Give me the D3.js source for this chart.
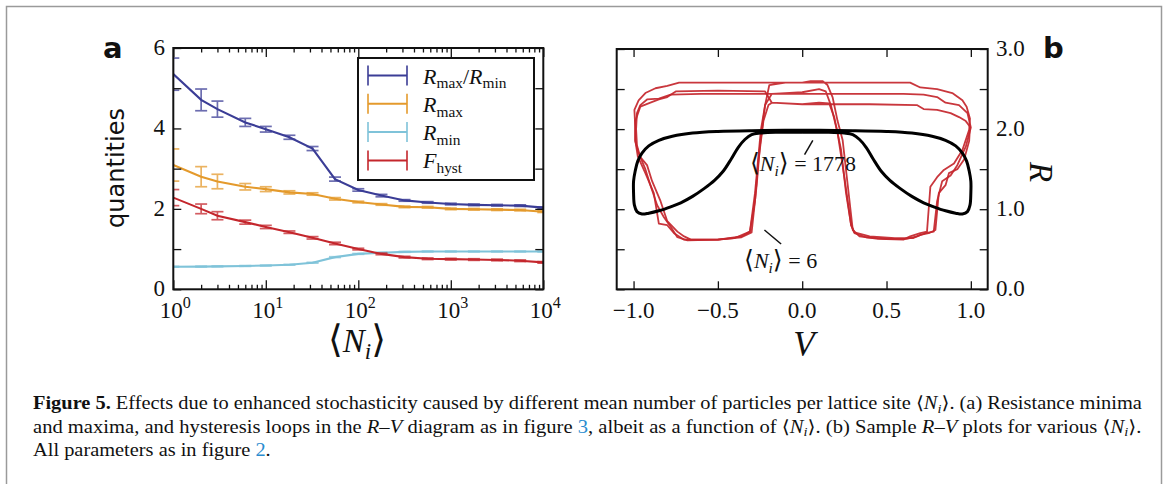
<!DOCTYPE html>
<html>
<head>
<meta charset="utf-8">
<script src="https://cdn.jsdelivr.net/npm/d3@7"></script>
<style>
  body { margin: 0; background: #fff; }
  svg text { font-family: 'Liberation Serif', 'DejaVu Serif', serif; fill: #111; }
</style>
</head>
<body>
<script>
// ---- panel a : quantities vs <N_i> ----
var nValues   = [1, 2, 3, 6, 10, 18, 32, 56, 100, 178, 316, 562, 1000, 1778, 3162, 5623, 10000];
var ratioVals = [5.35, 4.71, 4.48, 4.15, 3.98, 3.78, 3.50, 2.74, 2.47, 2.33, 2.21, 2.16, 2.12, 2.10, 2.09, 2.08, 2.03];
var ratioErr  = [0.40, 0.27, 0.20, 0.10, 0.07, 0.05, 0.05, 0.05, 0.03, 0.03, 0.02, 0.02, 0.02, 0.02, 0.02, 0.02, 0.02];
var rmaxVals  = [3.09, 2.80, 2.68, 2.55, 2.49, 2.41, 2.37, 2.25, 2.17, 2.11, 2.05, 2.04, 2.00, 1.99, 1.98, 1.97, 1.93];
var rmaxErr   = [0.40, 0.25, 0.18, 0.08, 0.06, 0.04, 0.03, 0.03, 0.02, 0.02, 0.02, 0.02, 0.02, 0.02, 0.02, 0.02, 0.02];
var rminVals  = [0.56, 0.565, 0.57, 0.58, 0.59, 0.61, 0.66, 0.80, 0.88, 0.91, 0.93, 0.94, 0.94, 0.94, 0.94, 0.94, 0.94];
var rminErr   = [0.01, 0.01, 0.01, 0.01, 0.01, 0.01, 0.01, 0.01, 0.01, 0.01, 0.01, 0.01, 0.01, 0.01, 0.01, 0.01, 0.01];
var fhystVals = [2.28, 2.00, 1.83, 1.67, 1.55, 1.42, 1.28, 1.14, 1.00, 0.88, 0.80, 0.76, 0.75, 0.74, 0.73, 0.71, 0.67];
var fhystErr  = [0.20, 0.12, 0.10, 0.05, 0.04, 0.03, 0.03, 0.03, 0.02, 0.02, 0.02, 0.02, 0.02, 0.02, 0.02, 0.02, 0.02];

var seriesColors = ["#3b3d96", "#e49a2c", "#7fc3d9", "#c4262c"];
var decadeTicks = [1, 10, 100, 1000, 10000];
var decadeExp = ["0", "1", "2", "3", "4"];
var quantTicks = [0, 1, 2, 3, 4, 5, 6];
var quantLabels = [0, 2, 4, 6];

// ---- panel b : R-V loops ----
var loopN6a = [[0.00,2.58],[0.05,2.60],[0.12,2.60],[0.15,2.55],[0.18,2.40],[0.21,2.10],[0.24,1.86],[0.27,1.30],[0.30,0.74],
  [0.34,0.66],[0.45,0.63],[0.60,0.62],[0.64,0.66],[0.70,0.70],[0.74,0.72],[0.76,1.28],[0.80,1.40],[0.84,1.49],[0.90,1.57],
  [0.95,1.74],[0.99,1.99],[0.995,2.13],[0.975,2.28],[0.95,2.36],[0.89,2.45],[0.80,2.50],[0.70,2.52],[0.64,2.58],[0.40,2.58],
  [0.00,2.58],[-0.30,2.58],[-0.60,2.58],[-0.73,2.58],[-0.80,2.54],[-0.87,2.51],[-0.93,2.45],[-0.97,2.36],[-0.995,2.24],
  [-0.99,2.03],[-0.99,1.86],[-0.975,1.66],[-0.93,1.45],[-0.88,1.20],[-0.85,0.82],[-0.80,0.80],[-0.76,0.70],[-0.70,0.62],
  [-0.50,0.62],[-0.40,0.64],[-0.31,0.72],[-0.28,1.20],[-0.245,1.99],[-0.22,2.30],[-0.195,2.55],[-0.10,2.58],[0.00,2.58]];
var loopN6b = [[0.00,2.46],[0.10,2.50],[0.14,2.47],[0.17,2.30],[0.21,1.95],[0.25,1.40],[0.29,0.80],[0.31,0.70],[0.38,0.65],
  [0.50,0.63],[0.62,0.63],[0.68,0.66],[0.73,0.70],[0.78,0.72],[0.80,1.10],[0.83,1.35],[0.88,1.42],[0.92,1.55],[0.97,1.78],
  [1.00,2.02],[0.98,2.20],[0.93,2.30],[0.85,2.33],[0.80,2.40],[0.72,2.43],[0.60,2.44],[0.30,2.44],[0.00,2.44],[-0.30,2.44],
  [-0.60,2.44],[-0.78,2.43],[-0.85,2.38],[-0.92,2.37],[-0.96,2.30],[-0.98,2.20],[-0.985,2.00],[-0.98,1.80],[-0.96,1.65],
  [-0.92,1.55],[-0.89,1.35],[-0.84,1.10],[-0.80,0.85],[-0.74,0.72],[-0.70,0.66],[-0.66,0.62],[-0.50,0.62],[-0.36,0.65],
  [-0.30,0.71],[-0.27,1.30],[-0.25,1.80],[-0.22,2.30],[-0.18,2.44],[-0.10,2.45],[0.00,2.46]];
var loopN6c = [[0.00,2.31],[0.10,2.33],[0.16,2.32],[0.19,2.15],[0.23,1.75],[0.26,1.20],[0.29,0.80],[0.31,0.71],[0.40,0.66],
  [0.55,0.64],[0.66,0.64],[0.70,0.68],[0.75,0.70],[0.79,0.74],[0.81,1.20],[0.85,1.30],[0.87,1.45],[0.92,1.50],[0.96,1.62],
  [0.99,1.85],[0.995,2.03],[0.97,2.10],[0.93,2.15],[0.88,2.20],[0.80,2.24],[0.72,2.25],[0.68,2.30],[0.40,2.31],[0.00,2.31],
  [-0.18,2.33],[-0.22,2.47],[-0.50,2.48],[-0.75,2.47],[-0.80,2.40],[-0.85,2.37],[-0.90,2.33],[-0.96,2.28],[-0.99,2.10],
  [-0.99,1.85],[-0.97,1.70],[-0.93,1.50],[-0.90,1.30],[-0.86,1.05],[-0.82,0.90],[-0.78,0.78],[-0.74,0.65],[-0.68,0.61],
  [-0.50,0.62],[-0.36,0.66],[-0.31,0.72],[-0.28,1.10],[-0.26,1.60],[-0.23,2.10],[-0.20,2.30],[-0.18,2.33],[-0.10,2.32],[0.00,2.31]];
var loopN1778 = [[0,1.96],[0.15,1.96],[0.25,1.95],[0.30,1.93],[0.34,1.87],[0.38,1.77],[0.42,1.63],[0.47,1.47],[0.52,1.36],
  [0.58,1.26],[0.65,1.16],[0.72,1.08],[0.78,1.03],[0.85,0.98],[0.91,0.95],[0.95,0.94],[0.98,0.97],[0.995,1.05],[1.0,1.2],
  [1.0,1.35],[0.99,1.48],[0.975,1.6],[0.95,1.7],[0.91,1.79],[0.85,1.86],[0.77,1.91],[0.65,1.95],[0.5,1.97],[0.3,1.98],
  [0,1.985],[-0.3,1.98],[-0.5,1.97],[-0.65,1.95],[-0.77,1.91],[-0.85,1.86],[-0.91,1.79],[-0.95,1.7],[-0.975,1.6],
  [-0.99,1.48],[-1.0,1.35],[-1.0,1.2],[-0.995,1.05],[-0.98,0.97],[-0.95,0.94],[-0.91,0.95],[-0.85,0.98],[-0.78,1.03],
  [-0.72,1.08],[-0.65,1.16],[-0.58,1.26],[-0.52,1.36],[-0.47,1.47],[-0.42,1.63],[-0.38,1.77],[-0.34,1.87],[-0.30,1.93],
  [-0.25,1.95],[-0.15,1.96],[0,1.96]];
var vTicks = [-1, -0.5, 0, 0.5, 1];
var rTicks = [0, 0.5, 1, 1.5, 2, 2.5, 3];
var rLabels = [0, 1, 2, 3];

var W = 1168, H = 484;
var svg = d3.select("body").append("svg").attr("width", W).attr("height", H);

// helper: text with italic / sub / sup pieces
function addParts(textSel, parts, size) {
  var shift = 0;
  parts.forEach(function(p) {
    var ts = textSel.append("tspan").text(p.t);
    var target = p.sub ? size * 0.22 : (p.sup ? -size * 0.42 : 0);
    if (target !== shift) { ts.attr("dy", target - shift); shift = target; }
    if (p.italic) ts.style("font-style", "italic");
    if (p.bold) ts.style("font-weight", "bold");
    if (p.sub || p.sup) ts.style("font-size", (size * 0.7) + "px");
    if (p.big) ts.style("font-size", (size * 1.15) + "px");
    if (p.color) ts.style("fill", p.color);
  });
  return textSel;
}
function angleN(rest) {
  return [{ t: "\u27E8", big: true }, { t: "N", italic: true }, { t: "i", italic: true, sub: true },
          { t: "\u27E9", big: true }].concat(rest ? [{ t: rest }] : []);
}

// figure frame
svg.append("rect").attr("x", 6.5).attr("y", 6.5).attr("width", 1155).attr("height", 520)
  .attr("fill", "none").attr("stroke", "#9a9a9a").attr("stroke-width", 1.5);

// ================= panel a =================
var xA = d3.scaleLog().domain([1, 10000]).range([173.3, 543.3]);
var yA = d3.scaleLinear().domain([0, 6]).range([289.3, 48]);

svg.append("clipPath").attr("id", "clipA").append("rect")
  .attr("x", 173.3).attr("y", 48).attr("width", 370).attr("height", 241.3);

var gA = svg.append("g").attr("clip-path", "url(#clipA)");
var seriesA = [
  { vals: ratioVals, err: ratioErr },
  { vals: rmaxVals, err: rmaxErr },
  { vals: rminVals, err: rminErr },
  { vals: fhystVals, err: fhystErr }
];
var lineA = d3.line().x(function(d) { return xA(d[0]); }).y(function(d) { return yA(d[1]); });

seriesA.forEach(function(s, i) {
  var pts = nValues.map(function(n, k) { return [n, s.vals[k], s.err[k]]; });
  var eg = gA.append("g").attr("stroke", seriesColors[i]).attr("stroke-width", 1.7).attr("opacity", 0.75);
  pts.forEach(function(p) {
    var x = xA(p[0]), y0 = yA(p[1] - p[2]), y1 = yA(p[1] + p[2]);
    eg.append("line").attr("x1", x).attr("x2", x).attr("y1", y0).attr("y2", y1);
    eg.append("line").attr("x1", x - 6).attr("x2", x + 6).attr("y1", y0).attr("y2", y0);
    eg.append("line").attr("x1", x - 6).attr("x2", x + 6).attr("y1", y1).attr("y2", y1);
  });
  gA.append("path").datum(pts).attr("d", lineA)
    .attr("fill", "none").attr("stroke", seriesColors[i]).attr("stroke-width", 2.1);
});

// ticks (inward, on all four sides)
var minorA = [];
d3.range(0, 4).forEach(function(e) {
  for (var m = 2; m <= 9; m++) minorA.push(m * Math.pow(10, e));
});
function tickAxis(axis, vals, size, tr) {
  var g = svg.append("g").attr("transform", tr)
    .call(axis.tickValues(vals).tickSize(-size).tickFormat(function() { return ""; }));
  g.select(".domain").remove();
  g.selectAll("line").attr("stroke", "#111").attr("stroke-width", 1.3);
  return g;
}
tickAxis(d3.axisBottom(xA), decadeTicks, 9, "translate(0,289.3)");
tickAxis(d3.axisBottom(xA), minorA, 4.5, "translate(0,289.3)");
tickAxis(d3.axisTop(xA), decadeTicks, 9, "translate(0,48)");
tickAxis(d3.axisTop(xA), minorA, 4.5, "translate(0,48)");
tickAxis(d3.axisLeft(yA), quantTicks, 8, "translate(173.3,0)");
tickAxis(d3.axisRight(yA), quantTicks, 8, "translate(543.3,0)");

svg.append("rect").attr("x", 173.3).attr("y", 48).attr("width", 370).attr("height", 241.3)
  .attr("fill", "none").attr("stroke", "#111").attr("stroke-width", 2);

decadeTicks.forEach(function(v, i) {
  var t = svg.append("text").attr("x", xA(v) + 2).attr("y", 318)
    .attr("text-anchor", "middle").style("font-size", "23px");
  addParts(t, [{ t: "10" }, { t: decadeExp[i], sup: true }], 23);
});
quantLabels.forEach(function(v) {
  svg.append("text").attr("x", 165).attr("y", yA(v) - 1).attr("dy", "0.34em")
    .attr("text-anchor", "end").style("font-size", "23px").text(v);
});

svg.append("text").attr("transform", "translate(123.5,168) rotate(-90)")
  .attr("text-anchor", "middle")
  .style("font-family", "'DejaVu Sans', sans-serif").style("font-size", "24px")
  .text("quantities");

addParts(svg.append("text").attr("x", 357).attr("y", 352).attr("text-anchor", "middle").style("font-size", "33px"),
  angleN(), 33);

svg.append("text").attr("x", 103).attr("y", 58)
  .style("font-family", "'DejaVu Sans', sans-serif").style("font-weight", "bold").style("font-size", "29px")
  .text("a");

// legend
var legendLabels = [
  [{ t: "R", italic: true }, { t: "max", sub: true }, { t: "/" }, { t: "R", italic: true }, { t: "min", sub: true }],
  [{ t: "R", italic: true }, { t: "max", sub: true }],
  [{ t: "R", italic: true }, { t: "min", sub: true }],
  [{ t: "F", italic: true }, { t: "hyst", sub: true }]
];
var lg = svg.append("g");
lg.append("rect").attr("x", 358).attr("y", 58).attr("width", 176).attr("height", 122)
  .attr("fill", "#fff").attr("stroke", "#111").attr("stroke-width", 2);
legendLabels.forEach(function(parts, i) {
  var cy = 75.5 + i * 28.3;
  var g = lg.append("g").attr("stroke", seriesColors[i]).attr("stroke-width", 2);
  g.append("line").attr("x1", 368).attr("x2", 407).attr("y1", cy).attr("y2", cy);
  g.append("line").attr("x1", 368).attr("x2", 368).attr("y1", cy - 10).attr("y2", cy + 10).attr("opacity", 0.8);
  g.append("line").attr("x1", 407).attr("x2", 407).attr("y1", cy - 10).attr("y2", cy + 10).attr("opacity", 0.8);
  addParts(lg.append("text").attr("x", 423).attr("y", cy + 8).style("font-size", "22px"), parts, 22);
});

// ================= panel b =================
var xB = d3.scaleLinear().domain([-1.1, 1.1]).range([616.7, 987.7]);
var yB = d3.scaleLinear().domain([0, 3]).range([289.3, 49]);

svg.append("clipPath").attr("id", "clipB").append("rect")
  .attr("x", 616.7).attr("y", 49).attr("width", 371).attr("height", 240.3);
var gB = svg.append("g").attr("clip-path", "url(#clipB)");
var lineB = d3.line().x(function(d) { return xB(d[0]); }).y(function(d) { return yB(d[1]); });

[loopN6a, loopN6b, loopN6c].forEach(function(loop) {
  gB.append("path").datum(loop).attr("d", lineB)
    .attr("fill", "none").attr("stroke", "#c4262c").attr("stroke-width", 1.8)
    .attr("stroke-linejoin", "round").attr("opacity", 0.92);
});
gB.append("path").datum(loopN1778).attr("d", lineB.curve(d3.curveCatmullRom))
  .attr("fill", "none").attr("stroke", "#000").attr("stroke-width", 3);

tickAxis(d3.axisBottom(xB), vTicks, 8, "translate(0,289.3)");
tickAxis(d3.axisTop(xB), vTicks, 8, "translate(0,49)");
tickAxis(d3.axisLeft(yB), rTicks, 8, "translate(616.7,0)");
tickAxis(d3.axisRight(yB), rTicks, 8, "translate(987.7,0)");

svg.append("rect").attr("x", 616.7).attr("y", 49).attr("width", 371).attr("height", 240.3)
  .attr("fill", "none").attr("stroke", "#111").attr("stroke-width", 2);

var fmt1 = d3.format(".1f");
vTicks.forEach(function(v) {
  svg.append("text").attr("x", xB(v)).attr("y", 318).attr("text-anchor", "middle")
    .style("font-size", "23px").text(fmt1(v));
});
rLabels.forEach(function(v) {
  svg.append("text").attr("x", 996).attr("y", yB(v) - 1).attr("dy", "0.34em")
    .style("font-size", "23px").text(fmt1(v));
});

svg.append("text").attr("x", 804).attr("y", 356).attr("text-anchor", "middle")
  .style("font-size", "35px").style("font-style", "italic").text("V");
svg.append("text").attr("transform", "translate(1030,172) rotate(90)").attr("text-anchor", "middle")
  .style("font-size", "33px").style("font-style", "italic").text("R");

svg.append("text").attr("x", 1043).attr("y", 58)
  .style("font-family", "'DejaVu Sans', sans-serif").style("font-weight", "bold").style("font-size", "29px")
  .text("b");

// annotations
var annLines = [
  { from: [0.014, 1.68], to: [0.063, 1.86] },
  { from: [-0.224, 0.74], to: [-0.125, 0.565] }
];
annLines.forEach(function(a) {
  svg.append("line").attr("x1", xB(a.from[0])).attr("y1", yB(a.from[1]))
    .attr("x2", xB(a.to[0])).attr("y2", yB(a.to[1]))
    .attr("stroke", "#111").attr("stroke-width", 1.5);
});
addParts(svg.append("text").attr("x", xB(-0.31)).attr("y", yB(1.48)).style("font-size", "22px"),
  angleN(" = 1778"), 22);
addParts(svg.append("text").attr("x", xB(-0.345)).attr("y", yB(0.27)).style("font-size", "22px"),
  angleN(" = 6"), 22);

// ================= caption =================
var linkBlue = "#2a8ccf";
var captionLines = [
  [{ t: "Figure 5.", bold: true }, { t: " Effects due to enhanced stochasticity caused by different mean number of particles per lattice site \u27E8" },
   { t: "N", italic: true }, { t: "i", italic: true, sub: true }, { t: "\u27E9. (a) Resistance minima" }],
  [{ t: "and maxima, and hysteresis loops in the " }, { t: "R", italic: true }, { t: "\u2013" }, { t: "V", italic: true },
   { t: " diagram as in figure " }, { t: "3", color: linkBlue }, { t: ", albeit as a function of \u27E8" },
   { t: "N", italic: true }, { t: "i", italic: true, sub: true }, { t: "\u27E9. (b) Sample " }, { t: "R", italic: true },
   { t: "\u2013" }, { t: "V", italic: true }, { t: " plots for various \u27E8" }, { t: "N", italic: true },
   { t: "i", italic: true, sub: true }, { t: "\u27E9." }],
  [{ t: "All parameters as in figure " }, { t: "2", color: linkBlue }, { t: "." }]
];
var captionY = [409, 432.5, 456];
var captionW = [1110, 1109, null];
var firstScale = 1;
captionLines.forEach(function(parts, i) {
  var t = svg.append("text").attr("x", 0).attr("y", 0).style("font-size", "18px");
  addParts(t, parts, 18);
  var len = t.node().getComputedTextLength();
  var s = captionW[i] ? captionW[i] / len : firstScale;
  if (i === 0) firstScale = s;
  t.attr("transform", "translate(33," + captionY[i] + ") scale(" + s + ",1)");
});
</script>
</body>
</html>
